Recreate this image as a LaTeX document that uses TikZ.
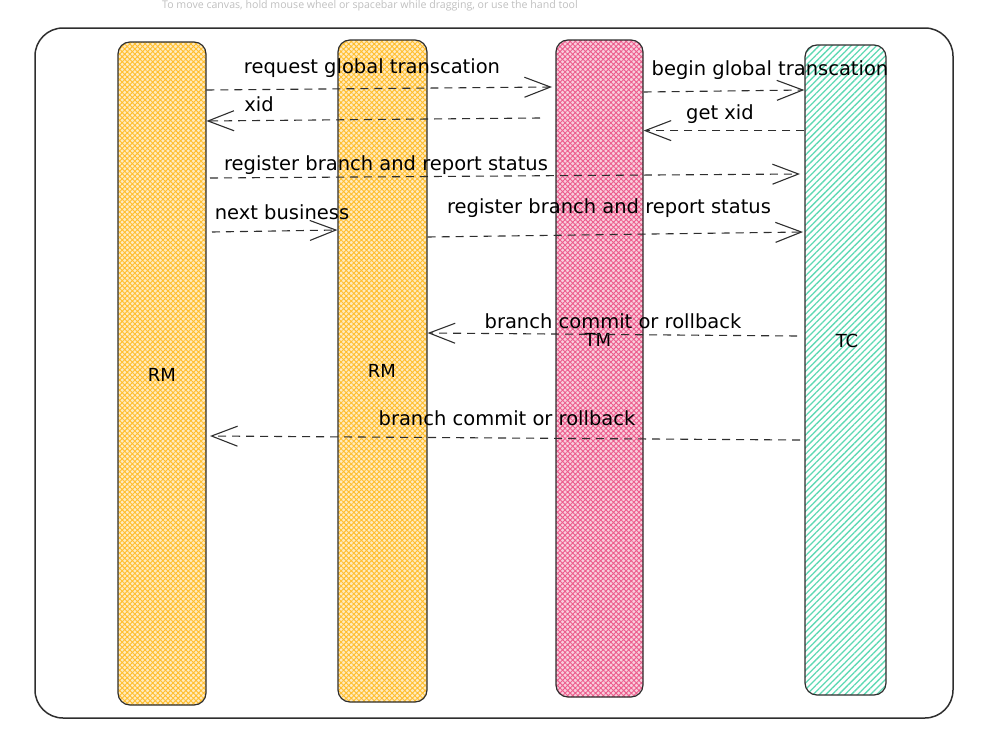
\documentclass[tikz,border=0pt]{standalone}
\usepackage{fontspec}
\setmainfont{DejaVu Sans}
\newfontfamily\hintfont{Open Sans}
\usetikzlibrary{patterns.meta,arrows.meta}
\definecolor{rmyellow}{HTML}{FFBE2E}
\definecolor{tmpink}{HTML}{EC5C8C}
\definecolor{tcgreen}{HTML}{5FD9B4}
\definecolor{edge}{HTML}{2E2E2E}
\tikzset{
  pillar/.style={draw=edge, line width=1.2pt, rounded corners=12pt, inner sep=0pt},
  hatchy/.style={preaction={fill=#1!30}, pattern={Hatch[angle=45,distance=3.6pt,line width=0.9pt]}, pattern color=#1},
  greenlines/.style={preaction={fill=white}, pattern={Lines[angle=45,distance=4.5pt,line width=1.3pt]}, pattern color=tcgreen},
  msg/.style={draw=edge, line width=1.1pt, dash pattern=on 8pt off 6pt, -{Straight Barb[length=26pt,width=20pt,line width=1.1pt]}},
  lbl/.style={font=\fontsize{19.5}{23}\selectfont, inner sep=0pt, text=black},
  plab/.style={font=\fontsize{18}{21}\selectfont, inner sep=0pt, text=black},
}
\begin{document}
\begin{tikzpicture}[x=1pt,y=-1pt]
\useasboundingbox (0,0) rectangle (989,744);
\node[font=\hintfont\fontsize{10.6}{12}\selectfont, text=gray!50, inner sep=0pt] (hint) at (370,5.5) {To move canvas, hold mouse wheel or spacebar while dragging, or use the hand tool};
\draw[edge, line width=1.5pt, rounded corners=28pt] (35,28) rectangle (953,718);
% pillars
\node[pillar, hatchy=rmyellow, minimum width=88pt, minimum height=663pt] (rm1) at (162,373.5) {};
\node[pillar, hatchy=rmyellow, minimum width=89pt, minimum height=662pt] (rm2) at (382.5,371) {};
\node[pillar, hatchy=tmpink, minimum width=87pt, minimum height=657pt] (tm) at (599.5,368.5) {};
\node[pillar, greenlines, minimum width=81pt, minimum height=650pt] (tc) at (845.5,370) {};
% pillar labels
\node[plab] (rm1l) at (162,375) {RM};
\node[plab] (rm2l) at (382,371) {RM};
\node[plab] (tml) at (598,340) {TM};
\node[plab] (tcl) at (847,341) {TC};
% messages
\draw[msg] (rm1.east |- 0,90) -- (552,87) coordinate (a1);
\node[lbl] (t1) at (372,68) {request global transcation};
\draw[msg] (540,118) coordinate (a2) -- (rm1.east |- 0,121);
\node[lbl] (t2) at (259,104) {xid};
\draw[msg] (tm.east |- 0,92) -- (tc.west |- 0,90);
\node[lbl] (t3) at (770,70) {begin global transcation};
\draw[msg] (tc.west |- 0,130.6) -- (tm.east |- 0,130.6);
\node[lbl] (t4) at (720,114) {get xid};
\draw[msg] (210,178) coordinate (a5) -- (800,174) coordinate (b5);
\node[lbl] (t5) at (386,165) {register branch and report status};
\draw[msg] (212,232) coordinate (a6) -- (rm2.west |- 0,230);
\node[lbl] (t6) at (282,212) {next business};
\draw[msg] (rm2.east |- 0,237) -- (803,232) coordinate (b7);
\node[lbl] (t7) at (609,208) {register branch and report status};
\draw[msg] (797,336) coordinate (a8) -- (rm2.east |- 0,333);
\node[lbl] (t8) at (613,321) {branch commit or rollback};
\draw[msg] (800,440) coordinate (a9) -- (210,436) coordinate (b9);
\node[lbl] (t9) at (507,418) {branch commit or rollback};
\end{tikzpicture}
\end{document}
